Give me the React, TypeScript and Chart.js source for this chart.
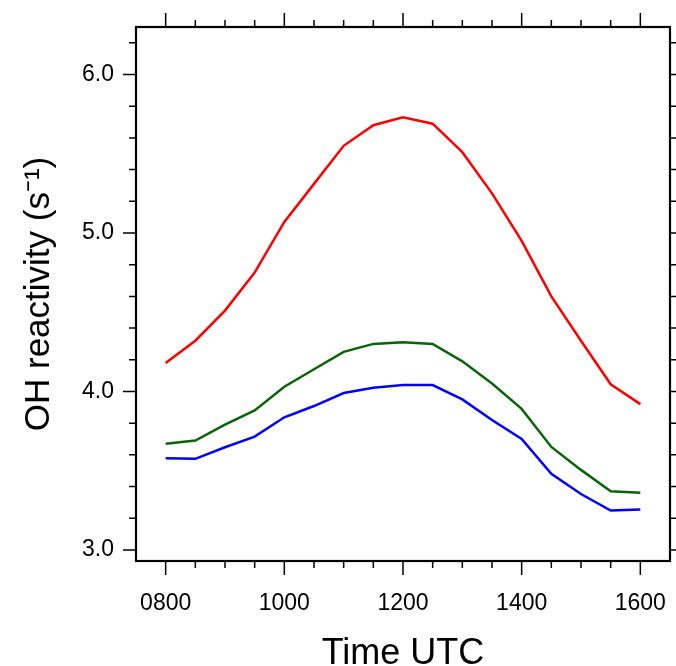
import React, { useEffect, useRef } from "react";
import { Chart, registerables } from "chart.js";

Chart.register(...registerables);

// Time (UTC, hhmm)
const times = [800, 850, 900, 950, 1000, 1050, 1100, 1150, 1200, 1250, 1300, 1350, 1400, 1450, 1500, 1550, 1600];
// OH reactivity (s^-1)
const redSeries = [4.18, 4.32, 4.51, 4.75, 5.07, 5.31, 5.55, 5.68, 5.73, 5.69, 5.51, 5.25, 4.95, 4.6, 4.32, 4.045, 3.92];
const greenSeries = [3.67, 3.69, 3.79, 3.88, 4.03, 4.14, 4.25, 4.3, 4.31, 4.3, 4.19, 4.05, 3.89, 3.65, 3.505, 3.37, 3.36];
const blueSeries = [3.578, 3.575, 3.648, 3.715, 3.837, 3.908, 3.99, 4.024, 4.04, 4.04, 3.95, 3.82, 3.7, 3.48, 3.353, 3.248, 3.255];

const xMajorTicks = [800, 1000, 1200, 1400, 1600];
const xTickLabels = ["0800", "1000", "1200", "1400", "1600"];
const xMinorTicks = [850, 900, 950, 1050, 1100, 1150, 1250, 1300, 1350, 1450, 1500, 1550];
const yMajorTicks = [3, 4, 5, 6];
const yTickLabels = ["3.0", "4.0", "5.0", "6.0"];
const yMinorTicks = [3.2, 3.4, 3.6, 3.8, 4.2, 4.4, 4.6, 4.8, 5.2, 5.4, 5.6, 5.8, 6.2];

const FONT = "'Liberation Sans', Arial, Helvetica, sans-serif";

const frameTicks = {
  id: "frameTicks",
  afterDraw(chart: any) {
    const { ctx, chartArea: a, scales } = chart;
    const xs = scales.x;
    const ys = scales.y;
    ctx.save();
    ctx.strokeStyle = "#000";
    ctx.lineWidth = 1.5;
    ctx.beginPath();
    const xt = (v: number, len: number) => {
      const p = xs.getPixelForValue(v);
      ctx.moveTo(p, a.bottom);
      ctx.lineTo(p, a.bottom + len);
      ctx.moveTo(p, a.top);
      ctx.lineTo(p, a.top - len);
    };
    const yt = (v: number, len: number) => {
      const p = ys.getPixelForValue(v);
      ctx.moveTo(a.left, p);
      ctx.lineTo(a.left - len, p);
      ctx.moveTo(a.right, p);
      ctx.lineTo(a.right + len, p);
    };
    xMajorTicks.forEach((v) => xt(v, 14));
    xMinorTicks.forEach((v) => xt(v, 7));
    yMajorTicks.forEach((v) => yt(v, 13));
    yMinorTicks.forEach((v) => yt(v, 7));
    ctx.stroke();
    ctx.lineWidth = 2.2;
    ctx.strokeRect(a.left, a.top, a.right - a.left, a.bottom - a.top);
    ctx.restore();
  },
};

const noPad = (s: any) => {
  s.paddingLeft = 0;
  s.paddingRight = 0;
  s.paddingTop = 0;
  s.paddingBottom = 0;
};

export default function App() {
  const ref = useRef<HTMLCanvasElement | null>(null);
  useEffect(() => {
    if (!ref.current) return;
    const mk = (ys: number[]) => times.map((t, i) => ({ x: t, y: ys[i] }));
    const ds = (data: any, color: string) => ({
      data,
      borderColor: color,
      borderWidth: 2.5,
      pointRadius: 0,
      tension: 0,
      fill: false,
    });
    const chart = new Chart(ref.current, {
      type: "line",
      data: {
        datasets: [
          ds(mk(redSeries), "#ff0000"),
          ds(mk(greenSeries), "#0a640a"),
          ds(mk(blueSeries), "#0000ff"),
        ],
      },
      options: {
        animation: false,
        responsive: false,
        devicePixelRatio: 1,
        layout: { padding: { top: 27, right: 6, left: 0, bottom: 0 } },
        plugins: { legend: { display: false }, tooltip: { enabled: false } },
        scales: {
          x: {
            type: "linear",
            min: 750,
            max: 1650,
            afterFit: (s: any) => {
              s.height = 105;
              noPad(s);
            },
            afterBuildTicks: (s: any) => {
              s.ticks = xMajorTicks.map((v) => ({ value: v }));
            },
            grid: { display: false, drawTicks: false },
            border: { display: false },
            ticks: {
              autoSkip: false,
              maxRotation: 0,
              padding: 29,
              color: "#000",
              font: { family: FONT, size: 23 },
              callback: (v: any) => xTickLabels[xMajorTicks.indexOf(Number(v))] ?? "",
            },
            title: {
              display: true,
              text: "Time UTC",
              color: "#000",
              font: { family: FONT, size: 36, lineHeight: 0.66 },
              padding: { top: 0, bottom: 0 },
            },
          },
          y: {
            type: "linear",
            min: 2.93,
            max: 6.3,
            afterFit: (s: any) => {
              s.width = 136;
              noPad(s);
            },
            afterBuildTicks: (s: any) => {
              s.ticks = yMajorTicks.map((v) => ({ value: v }));
            },
            grid: { display: false, drawTicks: false },
            border: { display: false },
            ticks: {
              autoSkip: false,
              padding: 22,
              color: "#000",
              font: { family: FONT, size: 23 },
              callback: (v: any) => yTickLabels[yMajorTicks.indexOf(Number(v))] ?? "",
            },
            title: {
              display: true,
              text: "OH reactivity (s\u207B\u00B9)",
              color: "#000",
              font: { family: FONT, size: 35, lineHeight: 1.2 },
              padding: { top: 18, bottom: 0 },
            },
          },
        },
      },
      plugins: [frameTicks],
    });
    return () => chart.destroy();
  }, []);
  return (
    <div style={{ position: "fixed", left: 0, top: 0, width: 676, height: 666, background: "#fff" }}>
      <canvas ref={ref} width={676} height={666} />
    </div>
  );
}
